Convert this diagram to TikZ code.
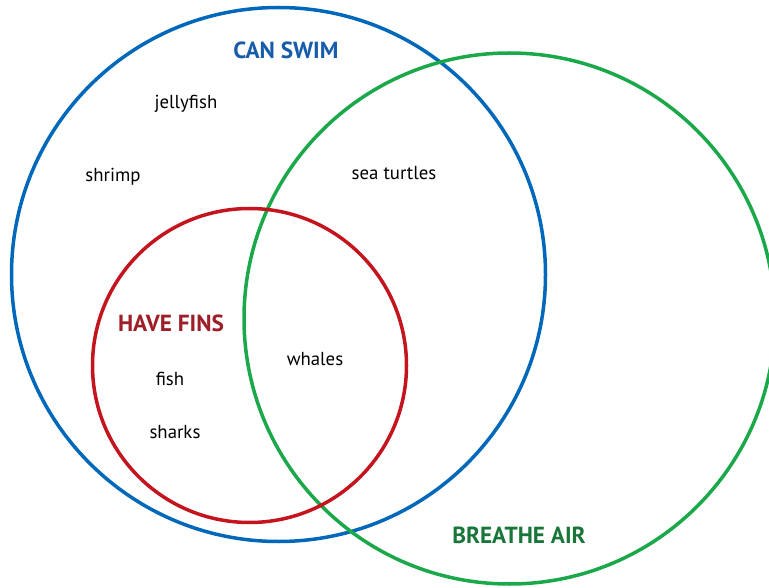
\documentclass[tikz,border=0pt]{standalone}
\usepackage{fontspec}
\setmainfont{PT Sans}
\definecolor{swimblue}{RGB}{0,104,186}
\definecolor{swimtext}{RGB}{22,92,170}
\definecolor{airgreen}{RGB}{26,168,74}
\definecolor{airtext}{RGB}{24,118,56}
\definecolor{finred}{RGB}{196,20,30}
\definecolor{fintext}{RGB}{158,30,40}
\begin{document}
\begin{tikzpicture}[x=1pt,y=-1pt,
  ring/.style={draw,line width=3.5pt},
  item/.style={font=\fontsize{18.8}{20}\selectfont,text=black},
  heading/.style={font=\fontsize{23.3}{25}\selectfont\bfseries}]
\useasboundingbox (0,0) rectangle (769,588);
\clip (0,0) rectangle (769,588);
% the three sets
\node[ring,swimblue,circle,minimum size=534pt,inner sep=0pt] (swim) at (278.5,274.5) {};
\node[ring,airgreen,circle,minimum size=531pt,inner sep=0pt] (air) at (509.5,318.5) {};
\node[ring,finred,circle,minimum size=314pt,inner sep=0pt] (fins) at (249.5,365.5) {};
% set titles
\node[heading,text=swimtext] (tswim) at (286,50) {CAN SWIM};
\node[heading,text=airtext] (tair) at (519,535) {BREATHE AIR};
\node[heading,text=fintext] (tfins) at (171,323) {HAVE FINS};
% members
\node[item] (jelly) at (186,104) {jellyfish};
\node[item] (shrimp) at (113,177) {shrimp};
\node[item] (turtles) at (394,173) {sea turtles};
\node[item] (whales) at (315,359) {whales};
\node[item] (fish) at (170,379) {fish};
\node[item] (sharks) at (175,432) {sharks};
\end{tikzpicture}
\end{document}
